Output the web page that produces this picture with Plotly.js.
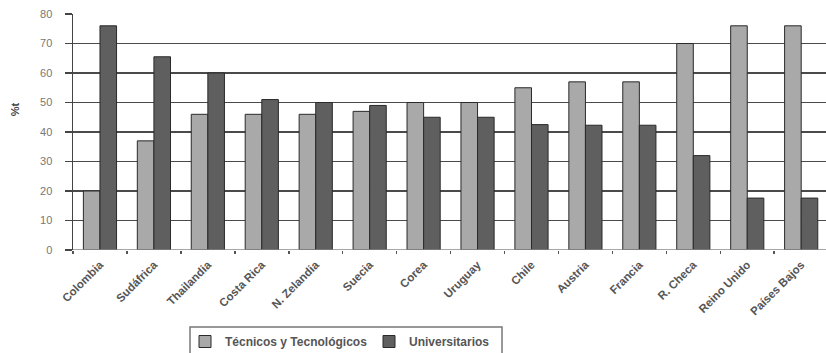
<!DOCTYPE html>
<html>
<head>
<meta charset="utf-8">
<script src="https://cdn.plot.ly/plotly-3.0.1.min.js"></script>
<style>
  html, body { margin: 0; padding: 0; background: #fff; }
  #chart { width: 826px; height: 353px; }
</style>
</head>
<body>
<div id="chart"></div>
<script>
// Countries shown along the horizontal axis
const paises = ["Colombia", "Sudáfrica", "Thailandia", "Costa Rica", "N. Zelandia",
  "Suecia", "Corea", "Uruguay", "Chile", "Austria", "Francia", "R. Checa",
  "Reino Unido", "Países Bajos"];

// Share (%) of students in each track
const tecnicos = [20, 37, 46, 46, 46, 47, 50, 50, 55, 57, 57, 70, 76, 76];
const universitarios = [76, 65.5, 60, 51, 50, 49, 45, 45, 42.5, 42.3, 42.3, 32, 17.6, 17.6];

const serieNombres = ["Técnicos y Tecnológicos", "Universitarios"];
const yTicks = [0, 10, 20, 30, 40, 50, 60, 70, 80];

const font = "Liberation Sans, Arial, sans-serif";

// Plot area in pixels, used to place the legend frame in paper units
const plotL = 73, plotT = 14, plotB = 250, plotW = 826 - plotL, plotH = plotB - plotT;
const px = v => (v - plotL) / plotW;
const py = v => (plotB - v) / plotH;

const traces = [
  {
    type: "bar", name: serieNombres[0], x: paises, y: tecnicos,
    marker: { color: "#a9a9a9", line: { color: "#2a2a2a", width: 1 } }
  },
  {
    type: "bar", name: serieNombres[1], x: paises, y: universitarios,
    marker: { color: "#5f5f5f", line: { color: "#2a2a2a", width: 1 } }
  }
];

const layout = {
  width: 826, height: 353,
  margin: { l: plotL, r: 0, t: plotT, b: 353 - plotB, pad: 0, autoexpand: false },
  paper_bgcolor: "#fff", plot_bgcolor: "#fff",
  barmode: "group", bargap: 0.385, bargroupgap: 0,
  showlegend: true,
  legend: {
    orientation: "h", x: px(185), xanchor: "left", y: py(327), yanchor: "top",
    borderwidth: 0, bgcolor: "rgba(0,0,0,0)",
    font: { family: font, size: 12, color: "#555", weight: "bold" },
    itemwidth: 30, entrywidth: 139, traceorder: "normal"
  },
  xaxis: {
    type: "category", range: [-0.5, 13.46], fixedrange: true, automargin: false,
    tickangle: -45, ticks: "outside", tickson: "boundaries", ticklen: 3,
    tickcolor: "#555", tickwidth: 1.5, ticklabelstandoff: 5,
    showline: false, showgrid: false, zeroline: false,
    tickfont: { family: font, size: 11.5, color: "#555", weight: "bold" }
  },
  yaxis: {
    range: [0, 80], tickvals: yTicks, ticktext: yTicks.map(String), automargin: false,
    ticks: "outside", ticklen: 7, tickcolor: "#444", tickwidth: 1.5,
    ticklabelstandoff: 10,
    showline: true, linecolor: "#444", linewidth: 1.5,
    showgrid: true, gridcolor: "#4a4a4a", gridwidth: 1.5,
    zeroline: false,
    tickfont: { family: font, size: 11, color: "#777" }
  },
  shapes: [
    { type: "line", xref: "paper", yref: "y", x0: 0, x1: 1, y0: 0, y1: 0,
      line: { color: "#888", width: 1.5 } },
    // legend frame, open at the bottom edge of the page
    { type: "rect", xref: "paper", yref: "paper",
      x0: px(190), x1: px(502), y0: py(360), y1: py(327),
      line: { color: "#777", width: 1.5 }, fillcolor: "rgba(0,0,0,0)" }
  ],
  annotations: [
    { text: "%t", xref: "paper", yref: "paper", x: -0.088, y: 0.595,
      textangle: -90, showarrow: false,
      font: { family: font, size: 11, color: "#444", weight: "bold" } }
  ]
};

Plotly.newPlot("chart", traces, layout, { displayModeBar: false, staticPlot: true });
</script>
</body>
</html>
